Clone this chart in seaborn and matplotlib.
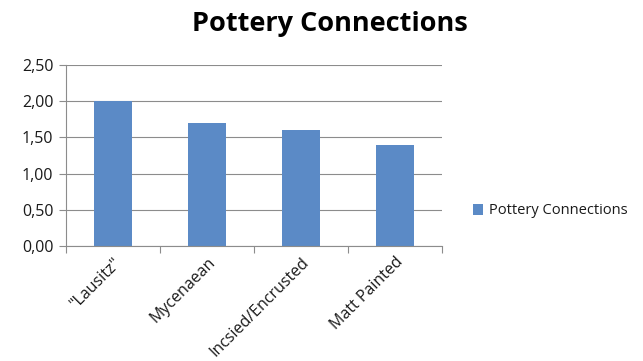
import matplotlib
matplotlib.use("Agg")
import matplotlib.pyplot as plt
import seaborn as sns
import pandas as pd
from matplotlib.patches import Patch
from matplotlib.ticker import MultipleLocator, FuncFormatter

categories = ['"Lausitz"', "Mycenaean", "Incsied/Encrusted", "Matt Painted"]
values = [2.0, 1.7, 1.6, 1.4]
series_name = "Pottery Connections"

df = pd.DataFrame({"cat": categories, "val": values})

sns.set_theme(style="white")
plt.rcParams["font.family"] = ["Open Sans", "DejaVu Sans"]

bar_color = "#5b8ac6"
grid_color = "#8c8c8c"
text_color = "#1a1a1a"

fig = plt.figure(figsize=(6.43, 3.61), dpi=100)
ax = fig.add_axes([66 / 643, 1 - 246 / 361, (442 - 66) / 643, (246 - 65) / 361])

sns.barplot(data=df, x="cat", y="val", color=bar_color, width=0.4,
            saturation=1, ax=ax, edgecolor="none")

ax.set_xlim(-0.5, len(categories) - 0.5)
ax.set_ylim(0, 2.5)
ax.yaxis.set_major_locator(MultipleLocator(0.5))
ax.yaxis.set_major_formatter(FuncFormatter(lambda v, p: f"{v:.2f}".replace(".", ",")))
ax.grid(axis="y", color=grid_color, linewidth=0.8)
ax.set_axisbelow(True)

for s in ["top", "right"]:
    ax.spines[s].set_visible(False)
for s in ["left", "bottom"]:
    ax.spines[s].set_color(grid_color)
    ax.spines[s].set_linewidth(0.8)

ax.set_xlabel("")
ax.set_ylabel("")

# category boundary ticks on the x axis
ax.set_xticks([i - 0.5 for i in range(len(categories) + 1)], minor=True)
ax.set_xticks(range(len(categories)))
ax.set_xticklabels(categories, rotation=45, ha="right", rotation_mode="anchor",
                   fontsize=11.5, color=text_color)
ax.tick_params(axis="x", which="major", length=0, pad=6)
ax.tick_params(axis="x", which="minor", length=5, color=grid_color, width=0.8,
               direction="out", bottom=True)
ax.tick_params(axis="y", length=5, color=grid_color, width=0.8, direction="out",
               left=True, labelsize=11.5, labelcolor=text_color, pad=4)

fig.suptitle(series_name, x=330 / 643, y=0.97, fontsize=19.5, fontweight="bold",
             color="black")

handle = Patch(facecolor=bar_color, edgecolor="none")
fig.legend([handle], [series_name], loc="center left",
           bbox_to_anchor=(460 / 643, 1 - 211 / 361), frameon=False,
           fontsize=10.5, handlelength=0.7, handleheight=0.7, handletextpad=0.4,
           labelcolor=text_color)

fig.savefig("out.png", dpi=100)
